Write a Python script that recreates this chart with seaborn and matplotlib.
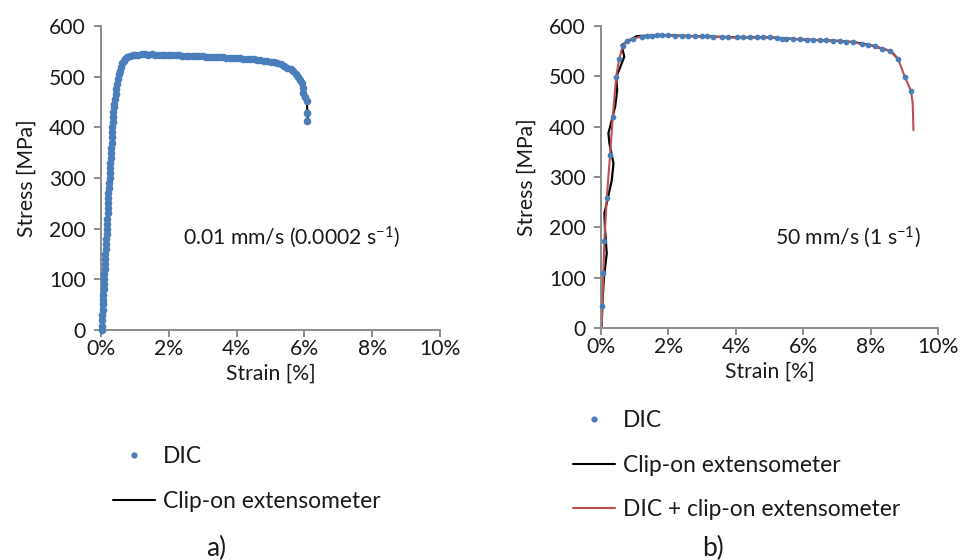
import matplotlib
matplotlib.use("Agg")
import matplotlib.pyplot as plt
import seaborn as sns
from matplotlib.lines import Line2D

sns.set_theme(style="white")
plt.rcParams['font.family'] = ['Lato', 'DejaVu Sans']
plt.rcParams['mathtext.fontset'] = 'custom'
plt.rcParams['mathtext.rm'] = 'Lato'
plt.rcParams['mathtext.it'] = 'Lato:italic'

BLUE = '#4a7ebb'
RED = '#c0504d'
AXC = '#8c8c8c'
TXT = '#1a1a1a'

# ---------------- Data: panel a) 0.01 mm/s ----------------
a_dic_strain = [0.02, 0.03, 0.04, 0.03, 0.05, 0.06, 0.07, 0.06, 0.08, 0.09, 0.09, 0.10, 0.11, 0.11,
                0.13, 0.13, 0.14, 0.15, 0.16, 0.17, 0.18, 0.18, 0.19, 0.20, 0.21, 0.21, 0.22, 0.22,
                0.23, 0.24, 0.26, 0.26, 0.27, 0.28, 0.29, 0.30, 0.30, 0.31, 0.32, 0.32, 0.33, 0.34,
                0.35, 0.36, 0.38, 0.39, 0.41, 0.43, 0.45, 0.47, 0.50, 0.52, 0.55, 0.59, 0.63, 0.67,
                0.72, 0.78, 0.86, 0.93,
                1.0, 1.1, 1.2, 1.3, 1.4, 1.5, 1.6, 1.7, 1.8, 1.9, 2.0, 2.1, 2.2, 2.3, 2.4, 2.5,
                2.6, 2.7, 2.8, 2.9, 3.0, 3.1, 3.2, 3.3, 3.4, 3.5, 3.6, 3.7, 3.8, 3.9, 4.0, 4.1,
                4.2, 4.3, 4.4, 4.5, 4.6, 4.7, 4.8, 4.9, 5.0, 5.1, 5.2, 5.3, 5.4, 5.5, 5.6, 5.67,
                5.75, 5.82, 5.87, 5.92, 5.95, 5.97, 6.02, 6.07, 6.09, 6.09]
a_dic_stress = [0, 8, 20, 30, 40, 52, 60, 70, 80, 90, 100, 110, 120, 130,
                140, 150, 160, 170, 180, 190, 200, 210, 220, 230, 240, 250, 260, 270,
                280, 290, 300, 310, 320, 330, 340, 350, 360, 370, 380, 390, 400, 410,
                420, 430, 440, 447, 455, 465, 475, 485, 495, 505, 512, 520, 526, 531,
                535, 538, 540, 542,
                543, 543, 544, 544, 543, 544, 543, 543, 543, 542, 543, 542, 542, 542, 541, 541,
                541, 540, 540, 540, 540, 539, 539, 539, 538, 538, 538, 537, 537, 537, 536, 536,
                535, 535, 534, 534, 533, 532, 531, 530, 529, 528, 527, 525, 522, 518, 515, 512,
                506, 500, 494, 487, 478, 467, 460, 452, 429, 412]
a_clip_strain = [0.0, 0.05, 0.10, 0.18, 0.26, 0.33, 0.40, 0.50, 0.63, 0.86, 1.5, 3.0, 4.5, 5.2,
                 5.5, 5.75, 5.92, 6.02, 6.07, 6.09, 6.10]
a_clip_stress = [0, 30, 100, 200, 300, 400, 450, 500, 526, 540, 544, 540, 534, 527,
                 518, 506, 487, 460, 452, 429, 415]

# ---------------- Data: panel b) 50 mm/s ----------------
b_dic_strain = [0.04, 0.07, 0.10, 0.17, 0.27, 0.35, 0.45, 0.54, 0.64, 0.76, 0.96, 1.21, 1.36,
                1.50, 1.65, 1.80, 2.00, 2.20, 2.39, 2.59, 2.79, 2.99, 3.14, 3.33, 3.58, 3.78,
                4.03, 4.22, 4.42, 4.62, 4.82, 5.01, 5.21, 5.36, 5.50, 5.70, 5.90, 6.10, 6.29,
                6.49, 6.69, 6.88, 7.08, 7.28, 7.48, 7.73, 7.93, 8.13, 8.33, 8.57, 8.82, 9.02,
                9.20]
b_dic_stress = [44, 109, 173, 258, 344, 420, 499, 534, 560, 571, 575, 579, 580,
                581, 581.5, 581.5, 581.5, 581, 579.5, 580, 579.5, 579.5, 579.5, 578, 578, 577.5,
                577.5, 577.5, 577.5, 577.5, 577.5, 577.5, 577, 575, 575, 574, 573.5, 573, 573,
                572, 571.5, 571, 570, 569, 568, 564, 563, 560.5, 555, 551, 534, 498,
                471]
b_clip_strain = [0.02, 0.04, 0.09, 0.17, 0.12, 0.10, 0.19, 0.32, 0.37, 0.25, 0.22, 0.32, 0.42,
                 0.48, 0.45, 0.54, 0.69, 0.61, 0.86, 1.06, 1.5, 2.0, 3.0, 4.0, 5.0, 6.0, 7.0,
                 7.5, 8.0, 8.3, 8.6, 8.82]
b_clip_stress = [0, 49, 102, 148, 195, 228, 254, 294, 327, 367, 387, 413, 440,
                 473, 499, 513, 539, 562, 572, 580, 581, 581.5, 579.5, 577.5, 577.5, 573, 570.5,
                 568, 562, 556, 550, 534]
b_comb_start_strain = [0.02]
b_comb_start_stress = [0]
b_comb_end_strain = [9.25, 9.27]
b_comb_end_stress = [446, 393]

x_ticks = [0, 2, 4, 6, 8, 10]
y_ticks = [0, 100, 200, 300, 400, 500, 600]
label_a = "0.01 mm/s (0.0002 s$^{-1}$)"
label_b = "50 mm/s (1 s$^{-1}$)"

FS = 15.2

fig = plt.figure(figsize=(9.6, 5.6), dpi=100)
ax1 = fig.add_axes([101 / 960, 1 - 330 / 560, (440 - 101) / 960, (330 - 26) / 560])
ax2 = fig.add_axes([601 / 960, 1 - 328 / 560, (938 - 601) / 960, (328 - 26) / 560])

# panel a
sns.lineplot(x=a_clip_strain, y=a_clip_stress, sort=False, estimator=None, color='black',
             lw=1.5, ax=ax1, legend=False, zorder=2)
sns.scatterplot(x=a_dic_strain, y=a_dic_stress, color=BLUE, s=30, linewidth=0, ax=ax1,
                legend=False, zorder=3, clip_on=False)

# panel b
b_comb_strain = b_comb_start_strain + b_dic_strain + b_comb_end_strain
b_comb_stress = b_comb_start_stress + b_dic_stress + b_comb_end_stress
sns.lineplot(x=b_clip_strain, y=b_clip_stress, sort=False, estimator=None, color='black',
             lw=1.6, ax=ax2, legend=False, zorder=2)
sns.scatterplot(x=b_dic_strain, y=b_dic_stress, color=BLUE, s=17, linewidth=0, ax=ax2,
                legend=False, zorder=3, clip_on=False)
sns.lineplot(x=b_comb_strain, y=b_comb_stress, sort=False, estimator=None, color=RED,
             lw=1.5, ax=ax2, legend=False, zorder=2.5)

for ax in (ax1, ax2):
    ax.set_xlim(0, 10)
    ax.set_ylim(0, 600)
    ax.set_xticks(x_ticks)
    ax.set_xticklabels([f"{v}%" for v in x_ticks])
    ax.set_yticks(y_ticks)
    ax.set_yticklabels([str(v) for v in y_ticks])
    for s in ('top', 'right'):
        ax.spines[s].set_visible(False)
    for s in ('left', 'bottom'):
        ax.spines[s].set_color(AXC)
        ax.spines[s].set_linewidth(1.4)
    ax.tick_params(axis='both', which='major', direction='out', length=5, width=1.4,
                   color=AXC, labelsize=FS, labelcolor=TXT, left=True, bottom=True)
    ax.tick_params(axis='y', pad=6)
    ax.tick_params(axis='x', pad=1.5)
    ax.set_xlabel("Strain [%]", fontsize=FS, color=TXT, labelpad=3)
    ax.set_ylabel("Stress [MPa]", fontsize=FS, color=TXT, labelpad=9)
    ax.set_facecolor('white')
    ax.grid(False)

ax1.text(2.42, 183, label_a, fontsize=FS, color=TXT, va='center', ha='left')
ax2.text(5.16, 181, label_b, fontsize=FS, color=TXT, va='center', ha='left')

fig.text(216 / 960, 1 - 548 / 560, "a)", fontsize=19, color=TXT, ha='center', va='center')
fig.text(713 / 960, 1 - 548 / 560, "b)", fontsize=19, color=TXT, ha='center', va='center')

h_dic = Line2D([], [], marker='o', ls='none', color=BLUE, markersize=4.5, markeredgewidth=0)
h_clip = Line2D([], [], color='black', lw=1.5)
h_comb = Line2D([], [], color=RED, lw=1.5)

leg_kw = dict(loc='upper left', frameon=False, fontsize=16.4, handlelength=1.85,
              handletextpad=0.35, labelspacing=1.04, borderpad=0, borderaxespad=0,
              labelcolor=TXT)
fig.legend([h_dic, h_clip], ["DIC", "Clip-on extensometer"],
           bbox_to_anchor=(113 / 960, 1 - 446 / 560), **leg_kw)
fig.legend([h_dic, h_clip, h_comb], ["DIC", "Clip-on extensometer", "DIC + clip-on extensometer"],
           bbox_to_anchor=(573 / 960, 1 - 410 / 560), **leg_kw)

fig.savefig("out.png", dpi=100, facecolor='white')
